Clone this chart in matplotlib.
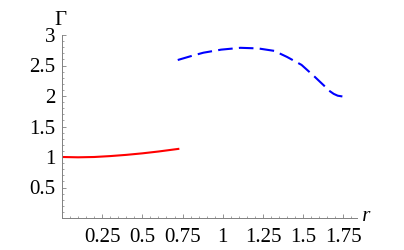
import matplotlib
matplotlib.use("Agg")
import matplotlib.pyplot as plt
import numpy as np
from matplotlib.ticker import MultipleLocator, FixedLocator

# Values
r_red = [0.0, 0.1, 0.2, 0.3, 0.4, 0.5, 0.6, 0.73]
gamma_red = [1.0, 0.995, 1.0, 1.015, 1.035, 1.06, 1.09, 1.135]

r_blue = [0.72, 0.81, 0.88, 0.99, 1.11, 1.22, 1.32, 1.40, 1.49, 1.57,
          1.63, 1.66, 1.69, 1.715, 1.75]
gamma_blue = [2.59, 2.66, 2.71, 2.76, 2.79, 2.78, 2.74, 2.64, 2.51, 2.32,
              2.17, 2.09, 2.035, 2.005, 1.99]

x_ticks = [0.25, 0.5, 0.75, 1, 1.25, 1.5, 1.75]
x_tick_labels = ["0.25", "0.5", "0.75", "1", "1.25", "1.5", "1.75"]
y_ticks = [0.5, 1, 1.5, 2, 2.5, 3]
y_tick_labels = ["0.5", "1", "1.5", "2", "2.5", "3"]

plt.rcParams['font.family'] = ['Liberation Serif', 'DejaVu Serif']

fig = plt.figure(figsize=(4.04, 2.5), dpi=100)
ax = fig.add_axes([62 / 404, 32 / 250, 295 / 404, 183 / 250])

ax.plot(r_red, gamma_red, color='red', lw=1.5, solid_capstyle='butt')
ax.plot(r_blue, gamma_blue, color='blue', lw=1.5, linestyle=(0, (7, 3)))

ax.set_xlim(0, 1.835)
ax.set_ylim(0, 3)

ax.spines['top'].set_visible(False)
ax.spines['right'].set_visible(False)
for s in ('left', 'bottom'):
    ax.spines[s].set_color('#808080')
    ax.spines[s].set_linewidth(0.7)

ax.xaxis.set_major_locator(FixedLocator(x_ticks))
ax.xaxis.set_minor_locator(MultipleLocator(0.05))
ax.yaxis.set_major_locator(FixedLocator(y_ticks))
ax.yaxis.set_minor_locator(MultipleLocator(0.1))
ax.set_xticklabels(x_tick_labels)
ax.set_yticklabels(y_tick_labels)

ax.tick_params(which='major', direction='in', length=3, width=0.6, color='#808080',
               labelsize=15, pad=7)
ax.tick_params(which='minor', direction='in', length=1.6, width=0.5, color='#808080')
ax.tick_params(axis='y', pad=5)

ax.text(1.0, 0.01, " r", transform=ax.transAxes, fontsize=15, style='italic',
        ha='left', va='center')
ax.text(-0.005, 1.03, "Γ", transform=ax.transAxes, fontsize=15,
        ha='center', va='bottom')

fig.savefig("out.png", dpi=100)
